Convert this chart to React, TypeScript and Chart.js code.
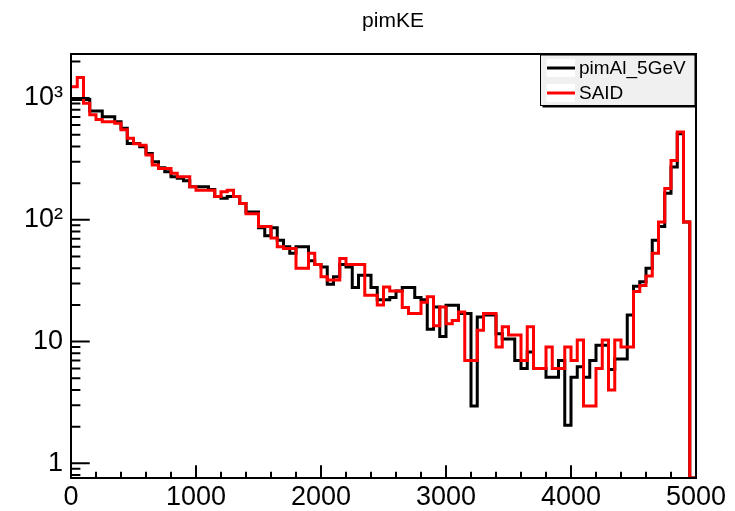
import { useEffect, useRef } from 'react';
import { Chart, registerables } from 'chart.js';

Chart.register(...registerables);

// ---- data ----
const X_MIN = 0;
const X_MAX = 5000;
const BIN_WIDTH = 50; // 100 bins over 0..5000
const Y_MIN = 0.757;
const Y_MAX = 2300;

const chartTitle = 'pimKE';
const seriesNames = ['pimAl_5GeV', 'SAID'];

const pimAl5GeV = [
  975, 975, 975, 782, 782, 702, 702, 640, 566, 423,
  423, 398, 350, 299, 268, 248, 226, 219, 209, 187,
  187, 187, 177, 155, 150, 155, 155, 136, 116, 116,
  86, 74, 86, 68, 60, 53, 60, 60, 46, 43,
  41, 29.5, 34, 43, 41, 27.8, 35, 35, 27.8, 22,
  22, 23, 26, 27.8, 27.8, 23, 22, 12.6, 19.2, 11,
  19.9, 19.9, 17, 17, 2.95, 15.9, 16.5, 16.5, 11.6, 10.5,
  10.5, 7, 6, 8.2, 6, 6, 5.1, 5.1, 7, 2.05,
  5.1, 6.2, 5.1, 7, 9.3, 9.3, 5.9, 7.2, 7.2, 16.5,
  28.4, 31, 40, 68, 88, 165, 272, 510, 96, 0,
];

const said = [
  1240, 1476, 908, 729, 665, 638, 638, 620, 548, 467,
  422, 410, 341, 282, 264, 264, 241, 226, 226, 187,
  175, 175, 175, 155, 170, 175, 155, 136, 112, 112,
  88, 88, 71, 60, 58, 58, 40, 40, 53, 43,
  34, 32, 32, 48, 43, 43, 43, 24, 24, 20,
  28, 26, 26, 19, 17, 17, 21, 23.3, 13.5, 19.2,
  14, 14.9, 17.5, 7, 7, 12.4, 17, 17, 9, 13.2,
  11.3, 11.3, 7, 13.2, 6, 6, 9, 6, 6, 9,
  7, 10.3, 2.95, 2.95, 6, 10.3, 4, 10.3, 9, 9,
  25.8, 28.9, 34.5, 53, 96, 181, 307, 525, 96, 0,
];

const xTickValues = [0, 1000, 2000, 3000, 4000, 5000];
const xTickLabels = ['0', '1000', '2000', '3000', '4000', '5000'];
const yTickValues = [1, 10, 100, 1000];
const yTickLabels = ['1', '10', '10\u00B2', '10\u00B3'];

const FONT = 'Liberation Sans, Arial, Helvetica, sans-serif';

function stepPoints(vals: number[]) {
  const pts: { x: number; y: number }[] = [];
  vals.forEach((v, i) => {
    const y = v > 0 ? v : Y_MIN;
    pts.push({ x: X_MIN + i * BIN_WIDTH, y });
    pts.push({ x: X_MIN + (i + 1) * BIN_WIDTH, y });
  });
  return pts;
}

const framePlugin = {
  id: 'rootFrame',
  afterDraw(chart: any) {
    const { ctx, chartArea } = chart;
    const xs = chart.scales.x;
    const ys = chart.scales.y;
    const { left, right, top, bottom } = chartArea;
    ctx.save();
    ctx.strokeStyle = '#000';
    ctx.lineWidth = 2;
    ctx.strokeRect(left, top, right - left, bottom - top);

    // x ticks (inside)
    const xMajor = 0.03 * (bottom - top);
    const xMinor = xMajor / 2;
    ctx.beginPath();
    for (let v = X_MIN; v <= X_MAX; v += 200) {
      const px = xs.getPixelForValue(v);
      const len = v % 1000 === 0 ? xMajor : xMinor;
      ctx.moveTo(px, bottom);
      ctx.lineTo(px, bottom - len);
    }
    // y ticks (inside)
    const yMajor = 0.03 * (right - left);
    const yMinor = yMajor / 2;
    for (let e = -1; e <= 3; e++) {
      for (let k = 1; k <= 9; k++) {
        const v = k * Math.pow(10, e);
        if (v < Y_MIN || v > Y_MAX) continue;
        const py = ys.getPixelForValue(v);
        const len = k === 1 ? yMajor : yMinor;
        ctx.moveTo(left, py);
        ctx.lineTo(left + len, py);
      }
    }
    ctx.stroke();
    ctx.restore();

    // title
    ctx.save();
    ctx.fillStyle = '#000';
    ctx.font = `21px ${FONT}`;
    ctx.textAlign = 'center';
    ctx.textBaseline = 'middle';
    ctx.fillText(chartTitle, 393, 21);
    ctx.restore();

    // legend
    const lx0 = 540.5, ly0 = 55, lx1 = 695, ly1 = 105.5;
    ctx.save();
    ctx.fillStyle = '#000';
    ctx.fillRect(lx0 + 2, ly0 + 2, lx1 - lx0, ly1 - ly0);
    ctx.fillStyle = '#f0f0f0';
    ctx.fillRect(lx0, ly0, lx1 - lx0, ly1 - ly0);
    ctx.strokeStyle = '#000';
    ctx.lineWidth = 1;
    ctx.strokeRect(lx0, ly0, lx1 - lx0, ly1 - ly0);
    const rows = [
      { name: seriesNames[0], color: '#000000', y: 68 },
      { name: seriesNames[1], color: '#ff0000', y: 93 },
    ];
    ctx.font = `19px ${FONT}`;
    ctx.textBaseline = 'middle';
    ctx.textAlign = 'left';
    rows.forEach((r) => {
      ctx.fillStyle = '#ffffff';
      ctx.fillRect(546.5, r.y - 9, 28.5, 18);
      ctx.strokeStyle = r.color;
      ctx.lineWidth = 3;
      ctx.beginPath();
      ctx.moveTo(547, r.y);
      ctx.lineTo(575, r.y);
      ctx.stroke();
      ctx.fillStyle = '#000';
      ctx.fillText(r.name, 579, r.y + 1);
    });
    ctx.restore();
  },
};

export default function App() {
  const ref = useRef<HTMLCanvasElement | null>(null);
  useEffect(() => {
    if (!ref.current) return;
    const chart = new Chart(ref.current, {
      type: 'line',
      data: {
        datasets: [
          {
            label: seriesNames[0],
            data: stepPoints(pimAl5GeV),
            borderColor: '#000000',
            backgroundColor: '#000000',
            borderWidth: 3,
            pointRadius: 0,
            fill: false,
            tension: 0,
            borderJoinStyle: 'miter',
            borderCapStyle: 'butt',
            order: 2,
          },
          {
            label: seriesNames[1],
            data: stepPoints(said),
            borderColor: '#ff0000',
            backgroundColor: '#ff0000',
            borderWidth: 3,
            pointRadius: 0,
            fill: false,
            tension: 0,
            borderJoinStyle: 'miter',
            borderCapStyle: 'butt',
            order: 1,
          },
        ],
      },
      options: {
        responsive: false,
        animation: false,
        layout: { padding: { left: 0, right: 39, top: 54, bottom: 0 } },
        plugins: {
          legend: { display: false },
          tooltip: { enabled: false },
          title: { display: false },
        },
        scales: {
          x: {
            type: 'linear',
            min: X_MIN,
            max: X_MAX,
            grid: { display: false, drawTicks: false },
            border: { display: false },
            afterBuildTicks: (s: any) => {
              s.ticks = xTickValues.map((v) => ({ value: v }));
            },
            afterFit: (s: any) => {
              s.height = 33;
            },
            ticks: {
              autoSkip: false,
              maxRotation: 0,
              padding: 3,
              color: '#000',
              font: { family: FONT, size: 27 },
              callback: (_v: any, i: number) => xTickLabels[i],
            },
          },
          y: {
            type: 'logarithmic',
            min: Y_MIN,
            max: Y_MAX,
            grid: { display: false, drawTicks: false },
            border: { display: false },
            afterBuildTicks: (s: any) => {
              s.ticks = yTickValues.map((v) => ({ value: v }));
            },
            afterFit: (s: any) => {
              s.width = 71;
            },
            ticks: {
              autoSkip: false,
              padding: 8,
              color: '#000',
              font: { family: FONT, size: 27 },
              callback: (_v: any, i: number) => yTickLabels[i],
            },
          },
        },
      },
      plugins: [framePlugin],
    } as any);
    return () => chart.destroy();
  }, []);

  return (
    <div style={{ position: 'fixed', left: 0, top: 0, width: 735, height: 511, background: '#fff' }}>
      <canvas ref={ref} width={735} height={511} style={{ display: 'block' }} />
    </div>
  );
}
